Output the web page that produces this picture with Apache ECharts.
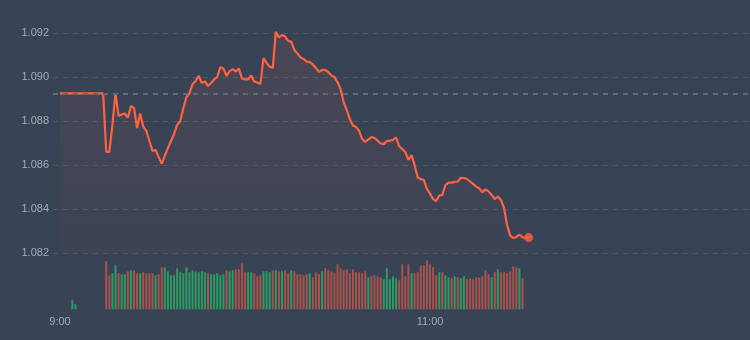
<!DOCTYPE html>
<html>
<head>
<meta charset="utf-8">
<style>
    html, body { margin: 0; padding: 0; background: #394356; }
    #main { width: 750px; height: 340px; }
</style>
<script src="https://cdn.jsdelivr.net/npm/echarts@6/dist/echarts.min.js"></script>
</head>
<body>
<div id="main"></div>
<script>
// minute offsets from 9:00 shown on the time axis
var timeTicks = [0, 120];
var timeLabels = ['9:00', '11:00'];
var priceTicks = [1.082, 1.084, 1.086, 1.088, 1.090, 1.092];
var prevClose = 1.08926;

// one price per minute, starting at 9:00
var prices = [
    1.08926, 1.08926, 1.08926, 1.08926, 1.08926, 1.08926, 1.08926, 1.08926, 1.08926, 1.08926,
    1.08926, 1.08926, 1.08926, 1.08926, 1.08926, 1.08660, 1.08660, 1.08782, 1.08926, 1.08823,
    1.08830, 1.08834, 1.08816, 1.08868, 1.08859, 1.08768, 1.08834, 1.08774, 1.08755, 1.08709,
    1.08664, 1.08668, 1.08636, 1.08605, 1.08643, 1.08677, 1.08709, 1.08741, 1.08782, 1.08800,
    1.08858, 1.08909, 1.08927, 1.08968, 1.08982, 1.09005, 1.08973, 1.08980, 1.08959, 1.08973,
    1.08989, 1.09000, 1.09045, 1.09039, 1.09005, 1.09027, 1.09036, 1.09025, 1.09039, 1.08993,
    1.08989, 1.08989, 1.09007, 1.08980, 1.08975, 1.08968, 1.09086, 1.09064, 1.09048, 1.09041,
    1.09205, 1.09180, 1.09191, 1.09184, 1.09164, 1.09161, 1.09123, 1.09107, 1.09089, 1.09082,
    1.09070, 1.09068, 1.09057, 1.09041, 1.09023, 1.09032, 1.09032, 1.09023, 1.09007, 1.09000,
    1.08977, 1.08945, 1.08886, 1.08850, 1.08809, 1.08780, 1.08773, 1.08755, 1.08718, 1.08705,
    1.08716, 1.08727, 1.08723, 1.08711, 1.08698, 1.08695, 1.08709, 1.08711, 1.08714, 1.08725,
    1.08686, 1.08673, 1.08659, 1.08623, 1.08645, 1.08600, 1.08543, 1.08536, 1.08532, 1.08491,
    1.08470, 1.08445, 1.08436, 1.08461, 1.08464, 1.08509, 1.08520, 1.08520, 1.08523, 1.08525,
    1.08542, 1.08541, 1.08536, 1.08525, 1.08514, 1.08502, 1.08493, 1.08477, 1.08489, 1.08480,
    1.08464, 1.08445, 1.08457, 1.08441, 1.08405, 1.08327, 1.08280, 1.08268, 1.08273, 1.08284,
    1.08271, 1.08270, 1.08270
];

// volume per minute from 9:00 ('-' = no trade)
var volume = [
    '-', '-', '-', '-', 9, 5, '-', '-', '-', '-', '-', '-', '-', '-', '-',
    48, 34, 36, 44, 36, 35, 35, 38, 39, 39,
    36, 36, 37, 36, 36, 36, 34, 35, 42, 42,
    38, 34, 34, 41, 37, 36, 42, 37, 39, 38,
    37, 38, 37, 36, 35, 35, 36, 34, 35, 39,
    38, 39, 40, 40, 46, 37, 37, 37, 36, 33,
    34, 38, 38, 37, 39, 39, 38, 38, 39, 36,
    39, 38, 35, 35, 34, 35, 36, 32, 37, 35,
    38, 41, 39, 38, 36, 45, 41, 39, 40, 36,
    40, 37, 37, 36, 38, 32, 33, 34, 33, 32,
    30, 41, 30, 33, 31, 29, 45, 33, 45, 36,
    36, 37, 44, 44, 49, 45, 42, 34, 37, 37,
    34, 32, 31, 33, 32, 31, 33, 30, 31, 30,
    32, 32, 33, 39, 35, 32, 37, 40, 37, 37,
    36, 38, 43, 42, 41, 31
];
// 1 = red bar, -1 = green bar
var volDir = [
    0, 0, 0, 0, -1, -1, 0, 0, 0, 0, 0, 0, 0, 0, 0,
    1, 1, -1, -1, 1, -1, -1, 1, -1, 1,
    1, -1, 1, 1, 1, 1, -1, 1, 1, -1,
    -1, -1, -1, -1, -1, -1, -1, -1, -1, -1,
    -1, -1, -1, 1, -1, -1, -1, -1, -1, 1,
    -1, -1, 1, 1, 1, 1, -1, -1, 1, 1,
    1, -1, -1, -1, 1, -1, 1, -1, 1, 1,
    -1, 1, 1, 1, 1, 1, -1, 1, 1, 1,
    -1, 1, 1, 1, 1, 1, 1, 1, 1, 1,
    1, 1, 1, 1, 1, -1, 1, 1, 1, 1,
    -1, -1, -1, -1, -1, 1, 1, 1, 1, -1,
    1, 1, 1, 1, 1, 1, 1, 1, -1, 1,
    -1, -1, 1, -1, 1, -1, -1, 1, 1, 1,
    1, 1, 1, 1, 1, -1, 1, -1, 1, 1,
    1, 1, 1, 1, -1, 1
];

var lineColor = '#ff6240';
var labelColor = '#a3aab6';
var font = 'Liberation Sans';

var priceData = prices.map(function (p, i) { return [i, p]; });
var last = priceData[priceData.length - 1];
var volData = [];
volume.forEach(function (v, i) {
    if (v === '-') return;
    volData.push({
        value: [i, v],
        itemStyle: { color: volDir[i] > 0 ? '#a8524a' : '#2c9b62' }
    });
});

var chart = echarts.init(document.getElementById('main'));
var xMin = -2.27, xMax = 223.78;
var option = {
    backgroundColor: '#394356',
    animation: false,
    grid: [
        { left: 53, right: 0, top: 33, height: 220 },
        { left: 53, right: 0, top: 259.3, height: 50 }
    ],
    xAxis: [
        {
            type: 'value', gridIndex: 0, min: xMin, max: xMax,
            show: false
        },
        {
            type: 'value', gridIndex: 1, min: xMin, max: xMax,
            axisLine: { show: false },
            axisTick: { show: false },
            splitLine: { show: false },
            axisLabel: {
                customValues: timeTicks,
                color: labelColor,
                fontFamily: font,
                fontSize: 11,
                margin: 7,
                formatter: function (v) {
                    return timeLabels[timeTicks.indexOf(v)];
                }
            }
        }
    ],
    yAxis: [
        {
            type: 'value', gridIndex: 0,
            min: priceTicks[0], max: priceTicks[priceTicks.length - 1], interval: 0.002,
            axisLine: { show: false },
            axisTick: { show: false },
            axisLabel: {
                color: labelColor, fontFamily: font, fontSize: 11, margin: 4,
                formatter: function (v) { return v.toFixed(3); }
            },
            splitLine: {
                lineStyle: { color: '#505a6c', type: [5, 5], width: 1 }
            }
        },
        {
            type: 'value', gridIndex: 1, min: 0, max: 50,
            show: false
        }
    ],
    series: [
        {
            type: 'line',
            xAxisIndex: 0, yAxisIndex: 0,
            data: priceData,
            showSymbol: false,
            clip: false,
            lineStyle: { color: lineColor, width: 2.2 },
            areaStyle: {
                origin: 'start',
                color: new echarts.graphic.LinearGradient(0, 0, 0, 1, [
                    { offset: 0, color: 'rgba(255,98,64,0.12)' },
                    { offset: 1, color: 'rgba(255,98,64,0.02)' }
                ])
            },
            markLine: {
                silent: true,
                symbol: 'none',
                precision: 5,
                label: { show: false },
                lineStyle: { color: '#5f6878', type: [5, 5], width: 2 },
                data: [{ yAxis: prevClose }]
            },
            z: 3
        },
        {
            type: 'scatter',
            xAxisIndex: 0, yAxisIndex: 0,
            data: [last],
            symbolSize: 9,
            itemStyle: { color: lineColor },
            z: 4
        },
        {
            type: 'bar',
            xAxisIndex: 1, yAxisIndex: 1,
            data: volData,
            barWidth: 2
        }
    ]
};
chart.setOption(option);
</script>
</body>
</html>
